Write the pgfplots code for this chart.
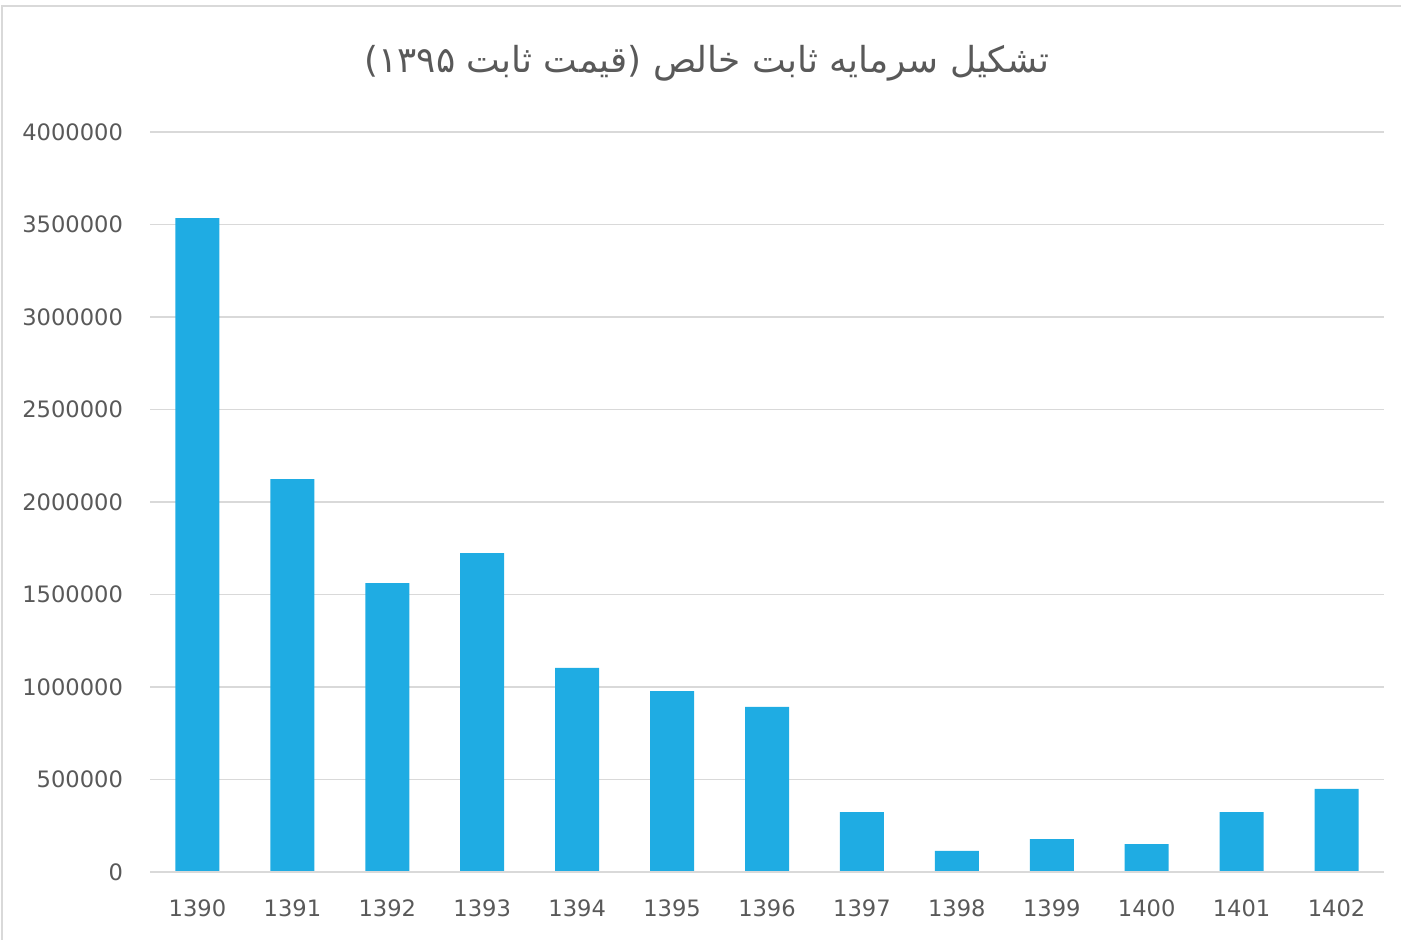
\documentclass[border=0pt]{standalone}
\usepackage{fontspec}
\setmainfont{DejaVu Sans}
\newfontfamily\arabicfont[Script=Arabic]{DejaVu Sans}
\TeXXeTstate=1
\usepackage{pgfplots}
\usepackage{pgfplotstable}
\pgfplotsset{compat=1.18}
\definecolor{barblue}{RGB}{31,172,227}
\definecolor{gridgray}{RGB}{217,217,217}
\definecolor{textgray}{RGB}{89,89,89}
\pgfplotstableread{
x year value
0 1390 3535000
1 1391 2124000
2 1392 1562000
3 1393 1724000
4 1394 1103000
5 1395 978000
6 1396 892000
7 1397 324000
8 1398 114000
9 1399 178000
10 1400 151000
11 1401 324000
12 1402 449000
}\datatable
\begin{document}
\begin{tikzpicture}
\path[use as bounding box] (0,0) rectangle (700.5pt,470pt);
\draw[gridgray,line width=0.8pt] (1pt,0) -- (1pt,467pt) -- (700.5pt,467pt);
\node[text=textgray,font=\fontsize{17.9}{21}\selectfont\arabicfont] at (353.5pt,438.5pt) {\beginR تشکیل سرمایه ثابت خالص (قیمت ثابت ۱۳۹۵)\endR};
\begin{axis}[
  at={(75pt,34pt)}, anchor=south west,
  scale only axis, width=617pt, height=370pt,
  xmin=-0.5, xmax=12.5, ymin=0, ymax=4000000,
  xtick={0,...,12},
  xticklabels={1390,1391,1392,1393,1394,1395,1396,1397,1398,1399,1400,1401,1402},
  ytick={0,500000,...,4000000},
  scaled y ticks=false,
  /pgf/number format/assume math mode=true,
  y tick label style={/pgf/number format/fixed,/pgf/number format/1000 sep={}},
  ymajorgrids, grid style={gridgray,line width=0.8pt},
  axis line style={draw=none},
  major tick length=0pt,
  tick label style={font=\fontsize{11.3}{13}\selectfont, text=textgray},
  y tick label style={xshift=-10pt},
  x tick label style={yshift=-10.5pt},
  clip=false,
]
\addplot[ybar, bar width=22pt, fill=barblue, draw=none] table[x=x,y=value] {\datatable};
\draw[gridgray,line width=0.8pt] (axis cs:-0.5,0) -- (axis cs:12.5,0);
\end{axis}
\end{tikzpicture}
\end{document}
